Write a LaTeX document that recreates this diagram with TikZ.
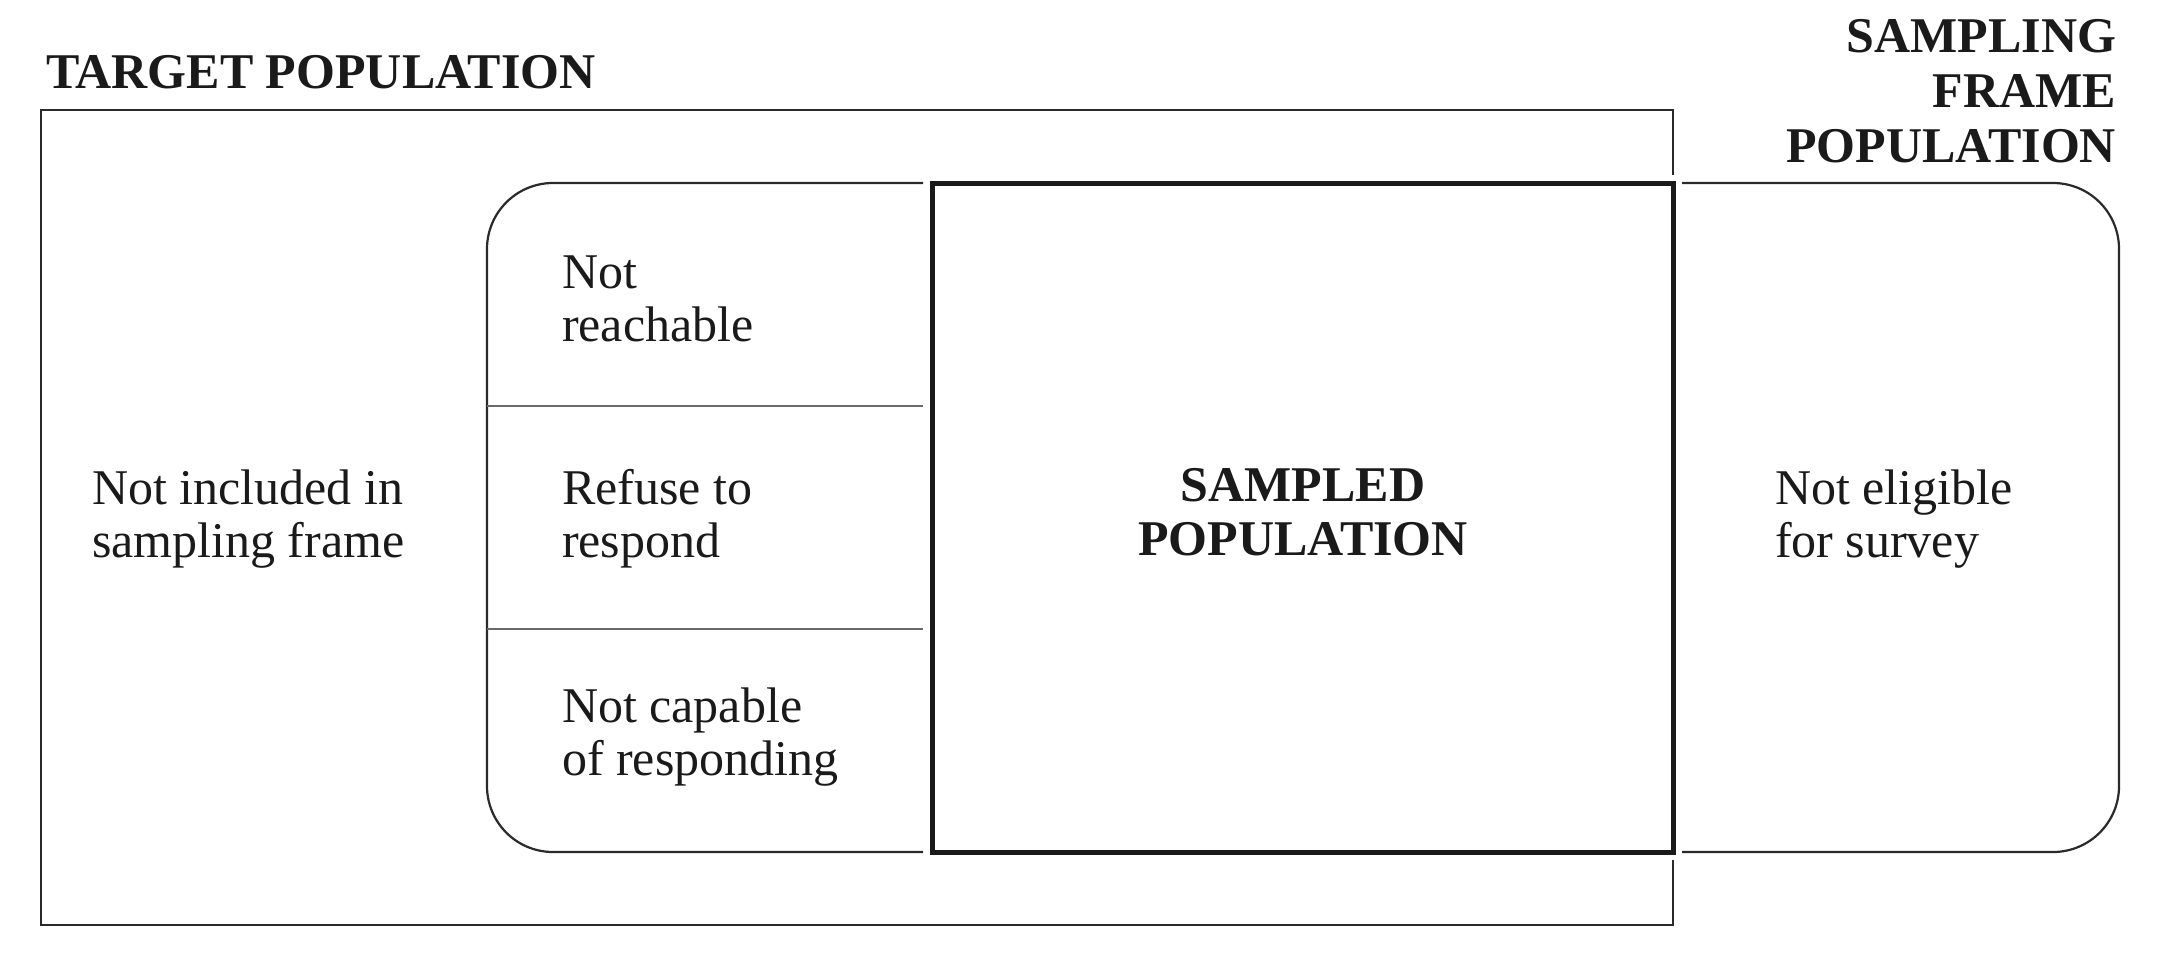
\documentclass[tikz,border=0pt]{standalone}
\usepackage{fontspec}
\setmainfont{Liberation Serif}
\definecolor{ink}{HTML}{1A1A1A}
\definecolor{linec}{HTML}{2A2A2A}
\begin{document}
\begin{tikzpicture}[x=1pt,y=-1pt,
  thinline/.style={draw=linec,line width=2.2pt},
  divline/.style={draw=linec!70,line width=1.6pt},
  thickline/.style={draw=ink,line width=5pt},
  lbl/.style={inner sep=0pt,outer sep=0pt,text=ink,align=left,
    font=\fontsize{50}{53}\selectfont},
  hdr/.style={lbl,font=\fontsize{50}{55}\selectfont\bfseries}]
\useasboundingbox (0,0) rectangle (2158,954);
% target population rectangle (right side interrupted)
\draw[thinline] (1673,175) -- (1673,110) -- (41,110) -- (41,925) -- (1673,925) -- (1673,860);
% sampling frame (rounded, interrupted by sampled box)
\draw[thinline,rounded corners=66] (923,183) -- (487,183) -- (487,852) -- (923,852);
\draw[thinline,rounded corners=66] (1682,183) -- (2119,183) -- (2119,852) -- (1682,852);
% dividers
\draw[divline] (487,406) -- (923,406);
\draw[divline] (487,629) -- (923,629);
% sampled population box
\draw[thickline] (932,183) rectangle (1673,852);
% texts (base anchor = baseline of last line)
\node[hdr,anchor=base west] (tp) at (46,88) {TARGET POPULATION};
\node[hdr,anchor=base east,align=right] (sf) at (2116,162) {SAMPLING\\FRAME\\POPULATION};
\node[lbl,anchor=base west] (ni) at (92,557) {Not included in\\sampling frame};
\node[lbl,anchor=base west] (nr) at (562,341) {Not\\reachable};
\node[lbl,anchor=base west] (rr) at (562,557) {Refuse to\\respond};
\node[lbl,anchor=base west] (nc) at (562,775) {Not capable\\of responding};
\node[hdr,anchor=base,align=center,font=\fontsize{50}{54}\selectfont\bfseries] (sp) at (1303,555) {SAMPLED\\POPULATION};
\node[lbl,anchor=base west] (ne) at (1775,557) {Not eligible\\for survey};
\end{tikzpicture}
\end{document}
